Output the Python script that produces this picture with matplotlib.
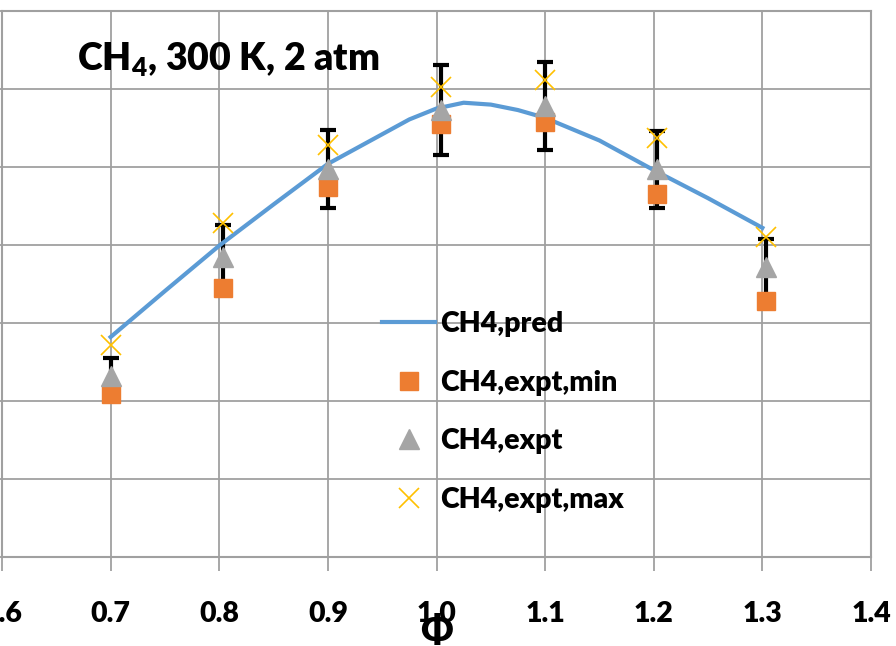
import matplotlib
matplotlib.use("Agg")
import matplotlib.pyplot as plt
from matplotlib.lines import Line2D

# ---- data ----
phi_pred = [0.70, 0.75, 0.80, 0.85, 0.90, 0.95, 0.975, 1.00, 1.025, 1.05, 1.075, 1.10, 1.15, 1.20, 1.25, 1.30]
s_pred   = [14.1, 17.05, 19.96, 22.6, 25.2, 27.1, 28.05, 28.75, 29.12, 29.0, 28.65, 28.15, 26.7, 24.8, 23.0, 21.1]

phi_expt = [0.70, 0.8035, 0.90, 1.0046, 1.10, 1.2034, 1.303]
s_min    = [10.42, 17.24, 23.69, 27.76, 27.88, 23.24, 16.41]
s_expt   = [11.60, 19.23, 24.87, 28.65, 28.91, 24.84, 18.59]
s_max    = [13.59, 21.41, 26.41, 30.13, 30.58, 26.86, 20.51]
s_err    = [1.15, 2.05, 2.47, 2.88, 2.85, 2.47, 1.79]

x_ticks = [0.6, 0.7, 0.8, 0.9, 1.0, 1.1, 1.2, 1.3, 1.4]
x_tick_labels = ["0.6", "0.7", "0.8", "0.9", "1.0", "1.1", "1.2", "1.3", "1.4"]
y_ticks = [0, 5, 10, 15, 20, 25, 30, 35]

FONT = ["Lato", "DejaVu Sans"]
plt.rcParams['font.family'] = FONT
WEIGHT = 'heavy'

W, H = 896, 646
fig = plt.figure(figsize=(W / 100, H / 100), dpi=100)
ax = fig.add_axes([2 / W, 1 - 557 / H, (871 - 2) / W, (557 - 11) / H])

grid_c = "#A0A0A0"
ax.set_xlim(0.6, 1.4)
ax.set_ylim(0, 35)
ax.set_xticks(x_ticks)
ax.set_xticklabels(x_tick_labels)
ax.set_yticks(y_ticks)
ax.set_yticklabels([])
ax.grid(True, color=grid_c, linewidth=1.3)
ax.set_axisbelow(True)
for side in ["left", "bottom", "top", "right"]:
    ax.spines[side].set_color(grid_c)
    ax.spines[side].set_linewidth(1.5)
ax.tick_params(axis='x', direction='out', length=10, width=1.3, color=grid_c,
               pad=22, labelsize=20.5)
for lab in ax.get_xticklabels():
    lab.set_fontweight(WEIGHT)
ax.tick_params(axis='y', direction='out', length=8, width=1.3, color=grid_c)

# error bars on expt series
ax.errorbar(phi_expt, s_expt, yerr=s_err, fmt='none', ecolor='black',
            elinewidth=3, capsize=6, capthick=3, zorder=3)

ax.plot(phi_pred, s_pred, color="#5B9BD5", linewidth=3, zorder=4)
ax.plot(phi_expt, s_min, linestyle='none', marker='s', markersize=13,
        color="#ED7D31", zorder=5)
ax.plot(phi_expt, s_expt, linestyle='none', marker='^', markersize=14,
        color="#A5A5A5", zorder=6)
ax.plot(phi_expt, s_max, linestyle='none', marker='x', markersize=14,
        markeredgewidth=1.2, color="#FFC000", zorder=7)

handles = [
    Line2D([], [], color="#5B9BD5", linewidth=3),
    Line2D([], [], linestyle='none', marker='s', markersize=13, color="#ED7D31"),
    Line2D([], [], linestyle='none', marker='^', markersize=14, color="#A5A5A5"),
    Line2D([], [], linestyle='none', marker='x', markersize=14, markeredgewidth=1.2, color="#FFC000"),
]
labels = ["CH4,pred", "CH4,expt,min", "CH4,expt", "CH4,expt,max"]
leg = fig.legend(handles, labels, loc='upper left',
                 bbox_to_anchor=(368 / W, 1 - 297 / H), bbox_transform=fig.transFigure,
                 frameon=False, borderpad=0, handlelength=1.86, handletextpad=0.18,
                 labelspacing=1.14, prop={'family': FONT, 'weight': WEIGHT, 'size': 20.5})

fig.text(77 / W, 1 - 71 / H, r"CH$_{\mathregular{4}}$, 300 K, 2 atm", fontsize=27,
         fontweight=WEIGHT, ha='left', va='baseline')
fig.text(436 / W, 1 - 643 / H, "Φ", fontsize=27, fontweight=WEIGHT, ha='center',
         va='baseline')

fig.savefig("out.png", dpi=100)
